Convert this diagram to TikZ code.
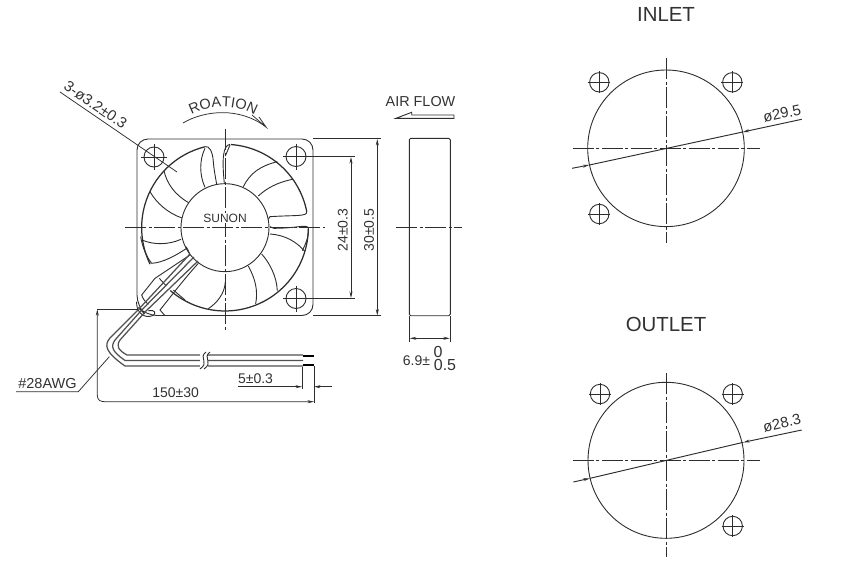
\documentclass[tikz,border=0pt]{standalone}
\usepackage{fontspec}
\setmainfont{Liberation Sans}
\usetikzlibrary{arrows.meta,decorations.text}
\definecolor{inkline}{RGB}{45, 45, 45}
\definecolor{inktext}{RGB}{50, 50, 50}
\definecolor{wiregray}{RGB}{80, 80, 80}
\tikzset{
    partline/.style   = {draw=inkline, line width=0.9pt},
    thickrim/.style   = {draw=inkline, line width=1.25pt},
    centerline/.style = {draw=inkline, line width=0.85pt, dash pattern=on 21pt off 2.5pt on 3pt off 2.5pt},
    dimline/.style    = {draw=inkline, line width=0.75pt},
    leaderline/.style = {draw=inkline, line width=0.95pt},
    dimtip/.style     = {-{Stealth[length=6.5pt,width=3pt]}},
    dimtips/.style    = {{Stealth[length=6.5pt,width=3pt]}-{Stealth[length=6.5pt,width=3pt]}},
    wireline/.style   = {draw=wiregray, line width=1.25pt, line join=round},
    label/.style      = {text=inktext, inner sep=0pt, font=\fontsize{14}{14}\selectfont},
    biglabel/.style   = {text=inktext, inner sep=0pt, font=\fontsize{15}{15}\selectfont},
    titletext/.style  = {text=inktext, inner sep=0pt, font=\fontsize{20.4}{20.4}\selectfont},
    zoomfan/.style    = {shift={(50,80)},  x=0.3333pt, y=-0.3333pt},
    zoomtube/.style   = {shift={(130,245)}, x=0.3333pt, y=-0.3333pt},
}
\begin{document}
\begin{tikzpicture}[x=1pt, y=-1pt]
    \useasboundingbox (0,0) rectangle (853,579);

    \draw[partline, rounded corners=11pt] (180,315.5) -- (146,315.5) -- (137,306) -- (137,139) -- (313,139) -- (313,315.5) -- cycle;

    \begin{scope}[zoomfan]
        \draw[thickrim] (525,443) ++(256:250) arc[start angle=256, end angle=154, radius=250];
        \draw[thickrim] (525,443) ++(274:250) arc[start angle=274, end angle=349, radius=250];
        \draw[thickrim] (525,443) ++(1:250)   arc[start angle=1,   end angle=131, radius=250];
        \draw[partline] (525,443) circle (132);

        \draw[partline] (465,200) .. controls (478,196) and (488,215) .. (490,245) .. controls (492,270) and (496,290) .. (500,312);
        \draw[partline] (465,205) .. controls (448,240) and (448,285) .. (465,322);
        \draw[partline] (540,193) .. controls (518,196) and (516,240) .. (523,310);
        \draw[partline] (540,195) -- (526,228);
        \draw[partline] (770,395) .. controls (772,410) and (740,405) .. (660,410) -- (655,418);
        \draw[partline] (775,444) .. controls (770,432) and (740,445) .. (672,445) -- (660,440);
        \draw[partline] (775,444) .. controls (777,470) and (768,490) .. (757,512);

        \draw[partline] (580,320) .. controls (600,280) and (630,258) .. (682,245);
        \draw[partline] (625,348) .. controls (650,325) and (680,308) .. (727,298);
        \draw[partline] (660,462) .. controls (705,465) and (740,485) .. (765,515);
        \draw[partline] (635,522) .. controls (660,550) and (680,590) .. (682,632);
        \draw[partline] (595,558) .. controls (615,595) and (625,630) .. (617,672);
        \draw[partline] (526,605) .. controls (525,640) and (500,670) .. (475,686);
        \draw[partline] (342,272) .. controls (350,310) and (375,345) .. (416,368);
        \draw[partline] (300,335) .. controls (320,370) and (355,400) .. (396,414);
        \draw[partline] (276,480) .. controls (310,495) and (355,495) .. (393,478);
        \draw[partline] (305,550) .. controls (340,548) and (380,525) .. (410,505);
        \draw[partline] (272,470) .. controls (278,505) and (290,530) .. (305,550);
    \end{scope}

    \begin{scope}[zoomtube]
        \draw[partline] (180,30) -- (75,100) -- (35,150);
        \draw[partline] (35,150) .. controls (38,160) and (45,170) .. (55,178);
        \draw[partline] (88,100) -- (108,122);
        \draw[partline] (130,135) -- (165,165);
        \draw[partline] (168,5) .. controls (175,15) and (178,25) .. (180,30);
        \draw[partline] (205,55) .. controls (160,105) and (130,145) .. (90,195) -- (105,212);
        \draw[partline] (105,212) -- (240,212);
        \draw[partline] (20,170) .. controls (18,195) and (35,218) .. (60,214) .. controls (75,213) and (80,200) .. (68,197) -- (55,197);
    \end{scope}

    \draw[wireline] (190,254) -- (138,310) -- (110,338) .. controls (104,345) and (105,352) .. (125,366) -- (303,366);
    \draw[wireline] (194,257) -- (141.7,310) -- (115,340) .. controls (110,347) and (113,352) .. (125,360.5) -- (303,360.5);
    \draw[wireline] (198,261) -- (146,311) -- (120,340) .. controls (116,346) and (118,350) .. (127,355) -- (303,355);

    \fill[white] (200,353) rectangle (208,368);
    \draw[partline] (206,352) .. controls (198,358) and (210,362) .. (200,369);
    \draw[partline] (210,352) .. controls (202,358) and (214,362) .. (204,369);
    \draw[draw=black, line width=2pt] (303,356) -- (314,356);
    \draw[draw=black, line width=2pt] (303,365) -- (314,365);

    \foreach \holex/\holey in {154/157, 296/156.5, 296/298.5} {
        \draw[partline] (\holex,\holey) circle (10);
        \draw[dimline] (\holex-13,\holey) -- (\holex+13,\holey);
        \draw[dimline] (\holex,\holey-13) -- (\holex,\holey+13);
    }
    \draw[centerline] (125,227.7) -- (325,227.7);
    \draw[centerline] (225,129) -- (225,331);

    \draw[dimline] (60,92) -- (177,172);
    \node[biglabel, rotate=-34.5] (holelabel) at (95.5,105) {3-ø3.2±0.3};

    \draw[dimline] (183,123) .. controls (205,110) and (240,107) .. (266,127);
    \draw[dimline] (259,117) -- (266,127) -- (252,115);
    \path[decorate, decoration={text along path, text align=center, text={|\fontsize{14.5}{14.5}\selectfont\color{inktext}|ROATION}}]
        (186,117.5) .. controls (210,103) and (236,103) .. (260,118.5);

    \node[biglabel, font=\fontsize{14.4}{14.4}\selectfont] (airlabel) at (420.5,102) {AIR FLOW};
    \draw[partline] (396,118.3) -- (411.7,112.3) -- (411.7,115) -- (454,115) -- (454,118.3) -- cycle;

    \draw[dimline] (313,138.5) -- (381,138.5);
    \draw[dimline] (313,315.5) -- (381,315.5);
    \draw[dimline, dimtips] (377.3,139) -- (377.3,315.5);
    \node[label, rotate=90] (widthlabel) at (369,230) {30±0.5};
    \draw[dimline] (309,156.5) -- (354.5,156.5);
    \draw[dimline] (309,298.5) -- (354.5,298.5);
    \draw[dimline, dimtips] (351,157) -- (351,298);
    \node[label, rotate=90] (pitchlabel) at (342.7,230) {24±0.3};

    \draw[partline, rounded corners=1.5pt] (409.3,138.3) rectangle (450.3,315.7);
    \draw[centerline] (396,227.5) -- (462,227.5);
    \draw[dimline] (409.3,316) -- (409.3,341.7);
    \draw[dimline] (450.3,316) -- (450.3,341.7);
    \draw[dimline, dimtips] (409.8,338.3) -- (449.8,338.3);
    \node[label] (thicklabel) at (416.5,360.5) {6.9±};
    \node[biglabel, font=\fontsize{16}{16}\selectfont] (thickup) at (438,351.5) {0};
    \node[biglabel, font=\fontsize{16}{16}\selectfont] (thickdown) at (445,365) {0.5};

    \draw[dimline] (314,366) -- (314,403);
    \draw[dimline] (302,367) -- (302,389);
    \draw[dimline, dimtip] (238,386.7) -- (302,386.7);
    \draw[dimline, dimtip] (332,386.7) -- (314,386.7);
    \node[label] (striplabel) at (255.5,378.5) {5±0.3};

    \draw[dimline, dimtips] (97.3,309.3) -- (97.3,395) .. controls (97.3,400) and (100,401.7) .. (105,401.7) -- (314,401.7);
    \draw[dimline] (97.3,309.3) -- (138,309.3);
    \node[label] (lengthlabel) at (175.7,393) {150±30};

    \draw[dimline] (16,391.7) -- (78.3,391.7) -- (109.3,356.7);
    \node[biglabel, font=\fontsize{14.5}{14.5}\selectfont] (wirelabel) at (47.5,383) {\#28AWG};

    \node[titletext] (inlettitle) at (666,14) {INLET};
    \draw[partline] (666,148.3) circle (78.3);
    \draw[centerline] (572.7,148.3) -- (760,148.3);
    \draw[centerline] (666,58) -- (666,243);
    \draw[leaderline] (589.3,165) -- (742.7,132);
    \draw[leaderline, dimtip] (572,168.3) -- (589.3,165);
    \draw[leaderline, dimtip] (801.7,119.3) -- (742.7,132);
    \node[biglabel, rotate=12] (inletlabel) at (782,113.5) {ø29.5};
    \foreach \holex/\holey in {599.3/82.3, 732.3/82.3, 599.3/214} {
        \draw[partline] (\holex,\holey) circle (9.7);
        \draw[dimline] (\holex-11,\holey) -- (\holex+11,\holey);
        \draw[dimline] (\holex,\holey-11) -- (\holex,\holey+11);
    }

    \node[titletext] (outlettitle) at (666,324) {OUTLET};
    \draw[partline] (666,460.3) circle (78);
    \draw[centerline] (572.7,460.3) -- (760,460.3);
    \draw[centerline] (666,373) -- (666,557.3);
    \draw[leaderline] (590,478.3) -- (743.3,442.3);
    \draw[leaderline, dimtip] (573.3,482) -- (590,478.3);
    \draw[leaderline, dimtip] (801.7,430) -- (743.3,442.3);
    \node[biglabel, rotate=13] (outletlabel) at (782,423) {ø28.3};
    \foreach \holex/\holey in {600/394, 732.7/394, 732.7/526} {
        \draw[partline] (\holex,\holey) circle (9.7);
        \draw[dimline] (\holex-11,\holey) -- (\holex+11,\holey);
        \draw[dimline] (\holex,\holey-11) -- (\holex,\holey+11);
    }

    \node[label, fill=white, inner sep=0.5pt, font=\fontsize{12}{12}\selectfont] (brandlabel) at (225,218) {SUNON};
\end{tikzpicture}
\end{document}
